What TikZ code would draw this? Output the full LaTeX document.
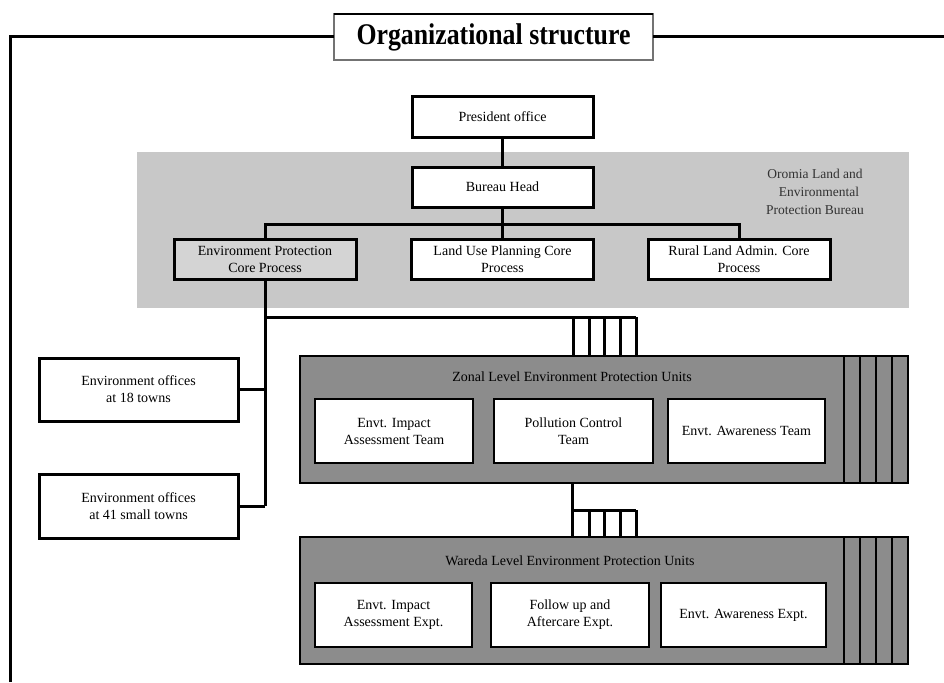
\documentclass[tikz,border=0pt]{standalone}
\usepackage{fontspec}
\usepackage{graphicx}
\setmainfont{Liberation Serif}
\usetikzlibrary{calc}
\definecolor{panelgray}{RGB}{200,200,200}
\definecolor{epgray}{RGB}{212,212,212}
\definecolor{unitgray}{RGB}{140,140,140}
\definecolor{paneltext}{RGB}{50,50,50}
\begin{document}
\begin{tikzpicture}[x=1pt,y=-1pt,
  every node/.style={font=\fontsize{14}{17}\selectfont, align=center, inner sep=0pt, outer sep=0pt},
  wbox/.style={draw, line width=3pt, fill=white},
  subbox/.style={draw, line width=2.6pt, fill=white, minimum height=64},
  unitbox/.style={draw, line width=2pt, fill=unitgray, minimum width=608, minimum height=127},
  conn/.style={line width=3pt},
  stripe/.style={line width=2pt},
  titlebox/.style={draw=black!55, line width=1.4pt, fill=white, minimum width=319, minimum height=46,
    font=\bfseries\fontsize{30}{30}\selectfont}
]
\useasboundingbox (0,0) rectangle (944,682);

% title and frame
\node[titlebox] (title) at (493.5,37) {\scalebox{0.86}[1]{Organizational structure}};
\draw[line width=2.4pt] (title.north west) -- (title.north east);
\coordinate (fbl) at (10,682);
\coordinate (ftr) at (944,37);
\draw[conn] (fbl) |- (title.west);
\draw[conn] (title.east) -- (ftr);

% bureau panel
\node[fill=panelgray, minimum width=772, minimum height=156] (panel) at (523,230) {};
\node[text=paneltext, font=\fontsize{13.5}{18}\selectfont] (oromia) at (815,192) {Oromia Land and\\ \hspace{8pt}Environmental\\ Protection Bureau};

\node[wbox, minimum width=181, minimum height=40] (pres) at (502.5,117) {President office};
\node[wbox, minimum width=181, minimum height=40] (bhead) at (502.5,187) {Bureau Head};
\node[wbox, fill=epgray, minimum width=182, minimum height=40] (ep) at (265,259) {Environment Protection\\ Core Process};
\node[wbox, minimum width=182, minimum height=40] (lu) at (502.5,259) {Land Use Planning Core\\ Process};
\node[wbox, minimum width=182, minimum height=40] (rl) at (739,259) {Rural Land Admin. Core\\ Process};

\draw[conn] (pres) -- (bhead);
\coordinate (bj) at (502.5,224);
\draw[conn] (bhead) -- (bj);
\draw[conn] (ep.north) -- (ep.north |- bj) -- (rl.north |- bj) -- (rl.north);
\draw[conn] (lu.north) -- (lu.north |- bj);

% environment offices
\node[wbox, minimum width=199, minimum height=63] (env1) at (138.5,389.5) {Environment offices\\ at 18 towns};
\node[wbox, minimum width=199, minimum height=64] (env2) at (138.5,506) {Environment offices\\ at 41 small towns};
\draw[conn] (ep.south) -- (ep.south |- env2.east);
\draw[conn] (env1.east) -- (env1.east -| ep.south);
\draw[conn] (env2.east) -- (env2.east -| ep.south);

% zonal units
\node[unitbox] (zonal) at (604,419.5) {};
\foreach \dx in {544,560,576,592} \draw[stripe] ($(zonal.north west)+(\dx,0)$) -- ($(zonal.south west)+(\dx,0)$);
\node (ztitle) at (572,377) {Zonal Level Environment Protection Units};
\node[subbox, minimum width=158] (zi) at (394,431) {Envt. Impact\\ Assessment Team};
\node[subbox, minimum width=159] (zp) at (573.5,431) {Pollution Control\\ Team};
\node[subbox, minimum width=157] (za) at (746.5,431) {Envt. Awareness Team};

\coordinate (c1y) at (0,317);
\coordinate (c1r) at (636,317);
\draw[conn] (ep.south |- c1y) -- (c1r);
\foreach \xx in {573,589,604,620,636} \draw[conn] (\xx,317) -- (\xx,356);

% wareda units
\node[unitbox] (wareda) at (604,600.5) {};
\foreach \dx in {544,560,576,592} \draw[stripe] ($(wareda.north west)+(\dx,0)$) -- ($(wareda.south west)+(\dx,0)$);
\node (wtitle) at (570,561) {Wareda Level Environment Protection Units};
\node[subbox, minimum width=157] (wi) at (393.5,615) {Envt. Impact\\ Assessment Expt.};
\node[subbox, minimum width=158] (wf) at (570,615) {Follow up and\\ Aftercare Expt.};
\node[subbox, minimum width=165] (wa) at (743.5,615) {Envt. Awareness Expt.};

\coordinate (z2top) at (572,483);
\coordinate (z2bot) at (572,537);
\draw[conn] (z2top) -- (z2bot);
\draw[conn] (572,510) -- (636,510);
\foreach \xx in {589,604,620,636} \draw[conn] (\xx,510) -- (\xx,537);
\end{tikzpicture}
\end{document}
